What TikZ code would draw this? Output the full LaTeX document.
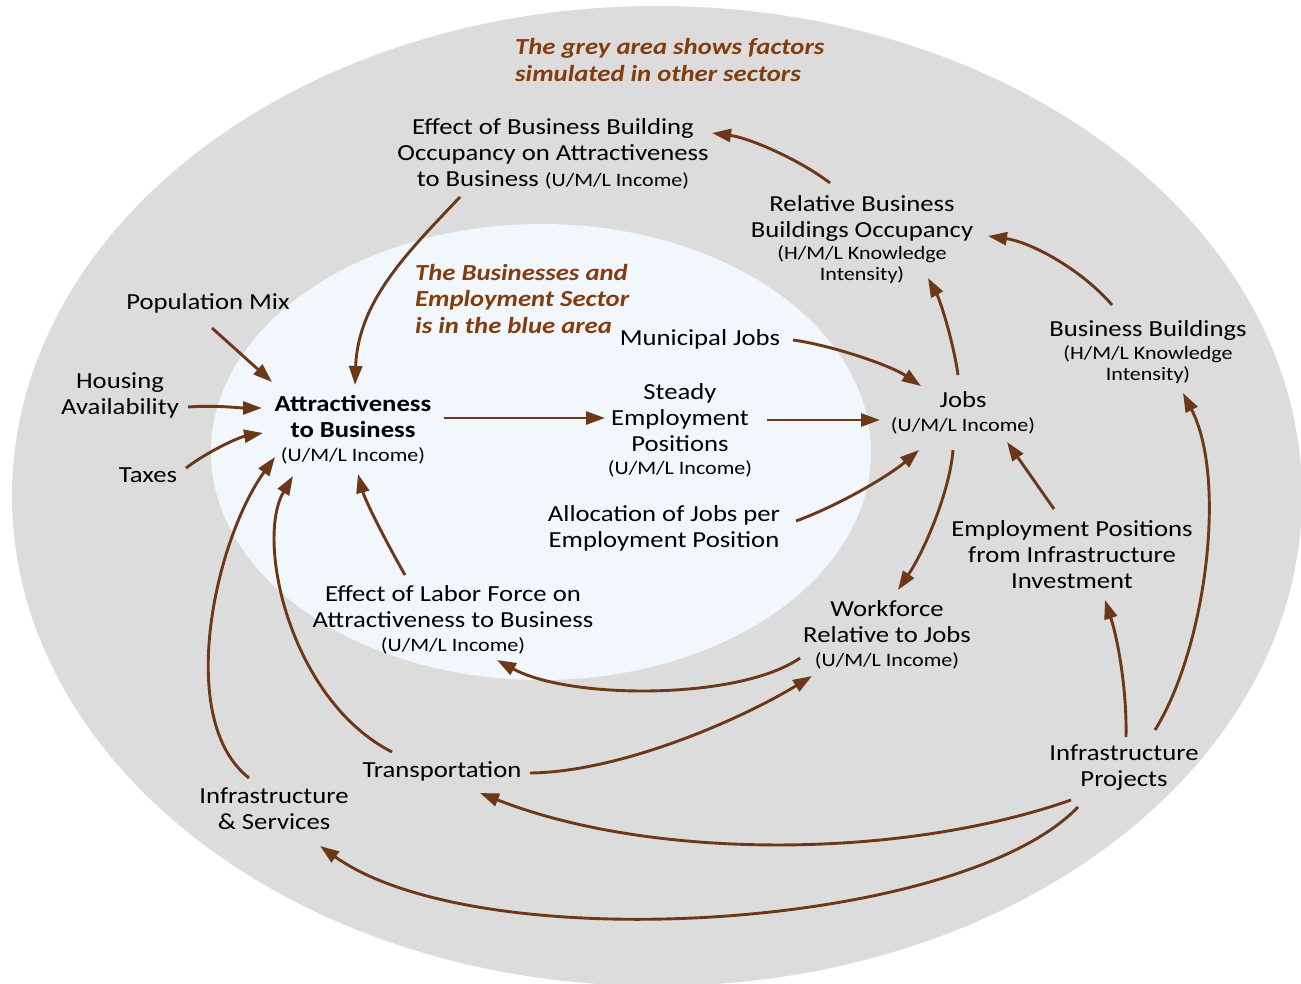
\documentclass[tikz,border=0pt]{standalone}
\usepackage{fontspec}
\setmainfont{Carlito}[FakeStretch=1.16]
\usetikzlibrary{arrows.meta,calc}
\definecolor{greyarea}{RGB}{220,220,220}
\definecolor{bluearea}{RGB}{241,247,253}
\definecolor{arrowbrown}{RGB}{108,56,24}
\definecolor{titlebrown}{RGB}{132,60,12}
\newcommand{\smtxt}{\fontsize{19}{22}\selectfont}
\begin{document}
\begin{tikzpicture}[x=1pt,y=-1pt,
  lbl/.style={align=center, inner sep=0pt, font=\fontsize{23}{26}\selectfont, text=black},
  conn/.style={draw=arrowbrown, line width=2.9pt, -{Triangle[length=19pt,width=13pt]}},
  note/.style={align=left, inner sep=0pt, font=\fontsize{23}{26.5}\selectfont\bfseries\itshape, text=titlebrown}]
\useasboundingbox (0,0) rectangle (1301,984);
\fill[greyarea] (657,496) ellipse [x radius=645, y radius=490];
\fill[bluearea] (541,452) ellipse [x radius=330, y radius=228];

% notes
\node[note, anchor=west] (noteGrey) at (515,60) {The grey area shows factors\\simulated in other sectors};
\node[note, anchor=west] (noteBlue) at (415,299) {The Businesses and\\Employment Sector\\is in the blue area};

% nodes
\node[lbl] (EffBB) at (553,154) {Effect of Business Building\\Occupancy on Attractiveness\\to Business {\smtxt(U/M/L Income)}};
\node[lbl] (RelBBO) at (862,240) {Relative Business\\Buildings Occupancy\\[-4pt]\smtxt (H/M/L Knowledge\\[-5pt]\smtxt Intensity)};
\node[lbl] (PopMix) at (208,303) {Population Mix};
\node[lbl] (Housing) at (120,395) {Housing\\Availability};
\node[lbl] (Taxes) at (148,475) {Taxes};
\node[lbl] (Attract) at (353,430) {\bfseries Attractiveness\\\bfseries to Business\\[-2pt]\smtxt (U/M/L Income)};
\node[lbl] (MunJobs) at (700,339) {Municipal Jobs};
\node[lbl] (Steady) at (680,430) {Steady\\Employment\\Positions\\[-3pt]\smtxt (U/M/L Income)};
\node[lbl] (Jobs) at (963,413) {Jobs\\[-2pt]\smtxt (U/M/L Income)};
\node[lbl] (BusBld) at (1148,352) {Business Buildings\\[-3pt]\smtxt (H/M/L Knowledge\\[-5pt]\smtxt Intensity)};
\node[lbl] (Alloc) at (664,528) {Allocation of Jobs per\\Employment Position};
\node[lbl] (EmpPos) at (1072,555) {Employment Positions\\from Infrastructure\\Investment};
\node[lbl] (EffLF) at (453,620) {Effect of Labor Force on\\Attractiveness to Business\\[-2pt]\smtxt (U/M/L Income)};
\node[lbl] (Workforce) at (887,635) {Workforce\\Relative to Jobs\\[-2pt]\smtxt (U/M/L Income)};
\node[lbl] (Transport) at (442,771) {Transportation};
\node[lbl] (InfraServ) at (274,809) {Infrastructure\\\& Services};
\node[lbl] (InfraProj) at (1124,768) {Infrastructure\\Projects};

% connectors
\draw[conn] ($(EffBB.center)+(-93,43)$) .. controls (410,250) and (358,300) .. ($(Attract.center)+(2,-45)$);
\draw[conn] ($(RelBBO.center)+(-32,-57)$) .. controls (800,160) and (750,138) .. ($(EffBB.center)+(159,-21)$);
\draw[conn] ($(BusBld.center)+(-36,-47)$) .. controls (1080,268) and (1030,242) .. ($(RelBBO.center)+(126,-4)$);
\draw[conn] ($(Jobs.center)+(-5,-38)$) .. controls (953,340) and (940,300) .. ($(RelBBO.center)+(66,38)$);
\draw[conn] ($(PopMix.center)+(4,25)$) -- ($(Attract.center)+(-81,-48)$);
\draw[conn] ($(Housing.center)+(68,12)$) .. controls (215,405) and (240,408) .. ($(Attract.center)+(-91,-22)$);
\draw[conn] ($(Taxes.center)+(38,-7)$) .. controls (210,450) and (240,437) .. ($(Attract.center)+(-90,3)$);
\draw[conn] ($(Attract.center)+(91,-12)$) -- ($(Steady.center)+(-75,-12)$);
\draw[conn] ($(Steady.center)+(87,-10)$) -- ($(Jobs.center)+(-83,7)$);
\draw[conn] ($(MunJobs.center)+(93,1)$) .. controls (830,345) and (890,365) .. ($(Jobs.center)+(-42,-27)$);
\draw[conn] ($(Alloc.center)+(132,-7)$) .. controls (840,505) and (890,475) .. ($(Jobs.center)+(-44,37)$);
\draw[conn] ($(Jobs.center)+(-10,37)$) .. controls (950,490) and (925,550) .. ($(Workforce.center)+(11,-45)$);
\draw[conn] ($(EmpPos.center)+(-18,-46)$) -- ($(Jobs.center)+(44,29)$);
\draw[conn] ($(InfraProj.center)+(31,-38)$) .. controls (1205,650) and (1228,480) .. ($(BusBld.center)+(35,41)$);
\draw[conn] ($(InfraProj.center)+(2,-31)$) .. controls (1127,690) and (1118,640) .. ($(EmpPos.center)+(33,45)$);
\draw[conn] ($(InfraProj.center)+(-53,32)$) .. controls (900,860) and (650,860) .. ($(Transport.center)+(38,22)$);
\draw[conn] ($(InfraProj.center)+(-46,39)$) .. controls (960,930) and (480,960) .. ($(InfraServ.center)+(46,37)$);
\draw[conn] ($(Transport.center)+(88,2)$) .. controls (620,772) and (740,720) .. ($(Workforce.center)+(-75,41)$);
\draw[conn] ($(Workforce.center)+(-87,23)$) .. controls (740,700) and (570,700) .. ($(EffLF.center)+(44,40)$);
\draw[conn] ($(EffLF.center)+(-48,-45)$) .. controls (385,540) and (365,500) .. ($(Attract.center)+(5,44)$);
\draw[conn] ($(Transport.center)+(-50,-19)$) .. controls (290,700) and (255,540) .. ($(Attract.center)+(-60,46)$);
\draw[conn] ($(InfraServ.center)+(-25,-31)$) .. controls (175,720) and (215,540) .. ($(Attract.center)+(-78,27)$);
\end{tikzpicture}
\end{document}
